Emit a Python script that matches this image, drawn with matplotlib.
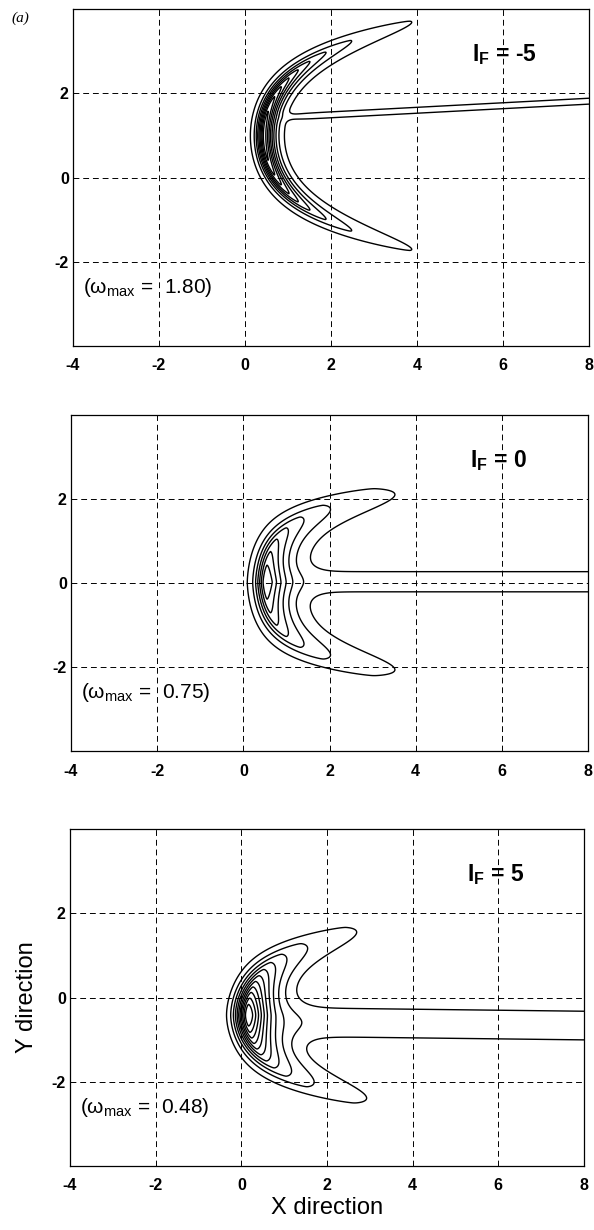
import numpy as np
import matplotlib
matplotlib.use('Agg')
import matplotlib.pyplot as plt

plt.rcParams['font.family'] = ['Liberation Sans', 'DejaVu Sans']
plt.rcParams['mathtext.fontset'] = 'custom'
plt.rcParams['mathtext.rm'] = 'Liberation Sans'
plt.rcParams['mathtext.bf'] = 'Liberation Sans:bold'
plt.rcParams['mathtext.it'] = 'Liberation Sans:italic'
plt.rcParams['axes.unicode_minus'] = False

# panel labels
IF_values = ['-5', '0', '5']
w_max = [1.80, 0.75, 0.48]

# crescent shape:
# ridge x = x0 + a*v^2 + b*v^4, v = y - yc
ridge_x0 = [0.45, 0.52, 0.15]
ridge_yc = [0.99, 0.02, -0.42]
ridge_a_up = [0.248, 0.169, 0.24]
ridge_a_lo = [0.248, 0.169, 0.29]
ridge_b = [0.028, 0.068, 0.065]
w_out = [0.16, 0.22, 0.27]
w_in = [0.23, 0.50, 0.57]
# decay along the arms
arm_len = [1.81, 2.04, 1.18]
arm_pow = [2.6, 1.2, 1.6]
arm_cut = [100.0, 1.98, 100.0]

# wake band behind the crescent
wake_y0 = [1.38, 0.03, -0.57]
wake_slope = [0.054, 0.0, -0.012]
wake_half = [0.07, 0.24, 0.34]
wake_start = [1.0, 0.9, 0.9]

# contour levels
levels = [
    [0.1, 0.3, 0.5, 0.7, 0.9, 1.1, 1.3, 1.5, 1.7],
    [0.05, 0.15, 0.25, 0.35, 0.45, 0.55, 0.65],
    [0.04, 0.08, 0.12, 0.16, 0.20, 0.24, 0.28, 0.32, 0.36, 0.40, 0.44],
]

xt = [-4, -2, 0, 2, 4, 6, 8]
yt = [-2, 0, 2]

x = np.linspace(-4, 8, 721)
y = np.linspace(-4, 4, 481)
X, Y = np.meshgrid(x, y)


def vort(i):
    v = Y - ridge_yc[i]
    a = np.where(v > 0, ridge_a_up[i], ridge_a_lo[i])
    g = ridge_x0[i] + a * v ** 2 + ridge_b[i] * v ** 4
    gp = 2 * a * v + 4 * ridge_b[i] * v ** 3
    d = (X - g) / np.sqrt(1 + gp ** 2)
    w = np.where(d < 0, w_out[i], w_in[i])
    t = (np.abs(v) / arm_len[i]) ** arm_pow[i] + (np.abs(v) / arm_cut[i]) ** 4
    f = w_max[i] * np.exp(-(np.abs(d) / w) ** 1.5 - t)
    L1 = levels[i][0]
    s = wake_half[i] / np.sqrt(np.log(1.6))
    yc = wake_y0[i] + wake_slope[i] * X
    wake = 1.6 * L1 * np.exp(-((Y - yc) / s) ** 2) * 0.5 * (1 + np.tanh((X - wake_start[i]) / 0.3))
    return f + wake


boxes = [
    [73 / 594, 1 - 346 / 1230, 516 / 594, 337 / 1230],
    [71 / 594, 1 - 751 / 1230, 517 / 594, 336 / 1230],
    [70 / 594, 1 - 1166 / 1230, 514 / 594, 337 / 1230],
]

fig = plt.figure(figsize=(5.94, 12.3), dpi=100)

for i in range(3):
    ax = fig.add_axes(boxes[i])
    ax.contour(X, Y, vort(i), levels=levels[i], colors='k', linewidths=1.0)
    ax.set_xlim(-4, 8)
    ax.set_ylim(-4, 4)
    ax.set_xticks(xt)
    ax.set_yticks(yt)
    ax.grid(True, color='k', linestyle=(0, (6, 4)), linewidth=0.7)
    ax.tick_params(length=0, labelsize=11.5)
    ax.tick_params(axis='x', pad=9)
    ax.tick_params(axis='y', pad=3)
    for lab in ax.get_xticklabels() + ax.get_yticklabels():
        lab.set_fontweight('bold')
    for sp in ax.spines.values():
        sp.set_linewidth(0.9)
    ax.text(5.27, 2.77, r'$\mathbf{I_F}$ = ' + IF_values[i], fontsize=16.5,
            fontweight='bold', ha='left', va='baseline')
    ax.text(-3.77, -2.73, '(ω$_{\\mathrm{max}}$ =  %.2f)' % w_max[i], fontsize=15,
            ha='left', va='baseline')
    if i == 2:
        ax.set_xlabel('X direction', fontsize=17)
        ax.set_ylabel('Y direction', fontsize=17)
        ax.xaxis.set_label_coords(0.5, -0.092)
        ax.yaxis.set_label_coords(-0.062, 0.5)

fig.text(11 / 594, 1 - 18 / 1230, '(a)', family='Liberation Serif', style='italic',
         fontsize=11, ha='left', va='center')

fig.savefig('out.png', dpi=100)
